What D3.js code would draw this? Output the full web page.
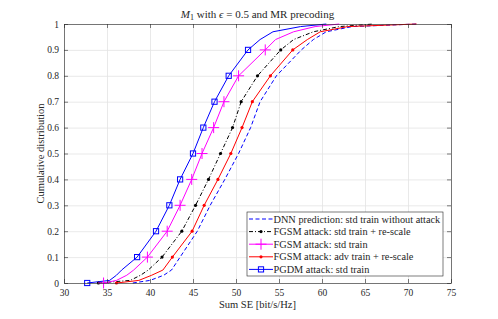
<!DOCTYPE html>
<html>
<head>
<meta charset="utf-8">
<script src="https://cdn.jsdelivr.net/npm/d3@7"></script>
<style>
  html, body { margin: 0; padding: 0; background: #fff; }
  svg { display: block; }
  text { font-family: "Liberation Serif", "Times New Roman", serif; fill: #262626; }
</style>
</head>
<body>
<svg id="chart" width="498" height="319"></svg>
<script>
// CDF levels shared by every curve
const levels = [0, 0.01, 0.03, 0.05, 0.1, 0.2, 0.3, 0.4, 0.5, 0.6, 0.7, 0.8, 0.9, 0.94, 0.97, 0.99, 1];
// marker is put on every tenth
const markerLevels = [0, 0.1, 0.2, 0.3, 0.4, 0.5, 0.6, 0.7, 0.8, 0.9];

// Sum SE [bit/s/Hz] at each level
const dnnNoAttack  = [38.0, 40.0, 41.6, 42.5, 43.5, 45.5, 47.0, 48.7, 50.3, 51.7, 52.8, 54.7, 57.6, 59.0, 60.5, 63.5, 71.0];
const fgsmRescale  = [34.0, 37.7, 38.9, 39.8, 41.4, 43.7, 45.3, 46.8, 48.2, 49.6, 50.6, 52.5, 55.2, 56.7, 59.0, 62.0, 66.0];
const fgsmStd      = [34.6, 36.1, 37.3, 38.1, 39.7, 42.0, 43.5, 44.85, 46.05, 47.4, 48.6, 50.3, 53.4, 54.6, 56.7, 59.2, 62.0];
const fgsmAdv      = [36.1, 38.7, 40.2, 41.5, 42.6, 44.9, 46.3, 47.9, 49.4, 50.7, 51.9, 54.0, 56.6, 58.3, 59.8, 63.0, 71.0];
const pgdmStd      = [32.7, 35.3, 36.1, 36.7, 38.5, 40.7, 42.25, 43.5, 45.0, 46.2, 47.5, 49.15, 51.4, 52.8, 54.3, 57.5, 60.5];

const xTicks = [30, 35, 40, 45, 50, 55, 60, 65, 70, 75];
const yTicks = [0, 0.1, 0.2, 0.3, 0.4, 0.5, 0.6, 0.7, 0.8, 0.9, 1];

const seriesNames = [
  "DNN prediction: std train without attack",
  "FGSM attack: std train + re-scale",
  "FGSM attack: std train",
  "FGSM attack: adv train + re-scale",
  "PGDM attack: std train"
];

const series = [
  { name: seriesNames[0], values: dnnNoAttack, color: "#0000ff", dash: "4,2.5", marker: "none" },
  { name: seriesNames[1], values: fgsmRescale, color: "#000000", dash: "4,2,1,2", marker: "dot" },
  { name: seriesNames[2], values: fgsmStd, color: "#ff00ff", dash: null, marker: "plus" },
  { name: seriesNames[3], values: fgsmAdv, color: "#ff0000", dash: null, marker: "dot" },
  { name: seriesNames[4], values: pgdmStd, color: "#0000ff", dash: null, marker: "square" }
];

const margin = { left: 64, right: 451, top: 24, bottom: 283 };
const svg = d3.select("#chart");

const x = d3.scaleLinear().domain([30, 75]).range([margin.left, margin.right]);
const y = d3.scaleLinear().domain([0, 1]).range([margin.bottom, margin.top]);
const plotW = margin.right - margin.left;
const plotH = margin.bottom - margin.top;

// Grid
svg.append("g")
  .attr("transform", `translate(0,${margin.bottom})`)
  .call(d3.axisBottom(x).tickValues(xTicks).tickSize(-plotH).tickFormat(""))
  .call(g => g.select(".domain").remove())
  .call(g => g.selectAll("line").attr("stroke", "#e3e3e3").attr("stroke-width", 0.8));
svg.append("g")
  .attr("transform", `translate(${margin.left},0)`)
  .call(d3.axisLeft(y).tickValues(yTicks).tickSize(-plotW).tickFormat(""))
  .call(g => g.select(".domain").remove())
  .call(g => g.selectAll("line").attr("stroke", "#e3e3e3").attr("stroke-width", 0.8));

// Curves
const line = d3.line()
  .x((d, i) => x(d))
  .y((d, i) => y(levels[i]));

const plot = svg.append("g");

series.forEach(s => {
  plot.append("path")
    .datum(s.values)
    .attr("fill", "none")
    .attr("stroke", s.color)
    .attr("stroke-width", 1)
    .attr("stroke-dasharray", s.dash)
    .attr("d", line);
});

function drawMarker(g, type, cx, cy, color) {
  if (type === "dot") {
    g.append("circle").attr("cx", cx).attr("cy", cy).attr("r", 1.6).attr("fill", color);
  } else if (type === "plus") {
    g.append("path")
      .attr("d", `M${cx - 5.5},${cy}H${cx + 5.5}M${cx},${cy - 5.5}V${cy + 5.5}`)
      .attr("stroke", color).attr("stroke-width", 1).attr("fill", "none");
  } else if (type === "square") {
    g.append("rect").attr("x", cx - 2.6).attr("y", cy - 2.6).attr("width", 5.2).attr("height", 5.2)
      .attr("fill", "none").attr("stroke", color).attr("stroke-width", 1);
  }
}

series.forEach(s => {
  if (s.marker === "none") return;
  levels.forEach((lv, i) => {
    if (markerLevels.indexOf(lv) >= 0) drawMarker(plot, s.marker, x(s.values[i]), y(lv), s.color);
  });
});

// Axes (box with inward ticks)
const axisColor = "#262626";
function styleAxis(g) {
  g.select(".domain").attr("stroke", axisColor).attr("stroke-width", 0.6);
  g.selectAll(".tick line").attr("stroke", axisColor).attr("stroke-width", 0.6);
  g.selectAll(".tick text").attr("font-family", "Liberation Serif, serif").attr("font-size", 9.5).attr("fill", axisColor);
}
const yFmt = d => (d === 0 || d === 1) ? String(d) : d.toFixed(1);

svg.append("g")
  .attr("transform", `translate(0,${margin.bottom})`)
  .call(d3.axisBottom(x).tickValues(xTicks).tickSizeInner(-4).tickSizeOuter(0).tickPadding(6))
  .call(styleAxis);
svg.append("g")
  .attr("transform", `translate(0,${margin.top})`)
  .call(d3.axisTop(x).tickValues(xTicks).tickSizeInner(-4).tickSizeOuter(0).tickFormat(""))
  .call(styleAxis);
svg.append("g")
  .attr("transform", `translate(${margin.left},0)`)
  .call(d3.axisLeft(y).tickValues(yTicks).tickSizeInner(-4).tickSizeOuter(0).tickPadding(5).tickFormat(yFmt))
  .call(styleAxis);
svg.append("g")
  .attr("transform", `translate(${margin.right},0)`)
  .call(d3.axisRight(y).tickValues(yTicks).tickSizeInner(-4).tickSizeOuter(0).tickFormat(""))
  .call(styleAxis);

// Labels
svg.append("text")
  .attr("x", (margin.left + margin.right) / 2)
  .attr("y", 308)
  .attr("text-anchor", "middle")
  .attr("font-size", 10.5)
  .text("Sum SE [bit/s/Hz]");

svg.append("text")
  .attr("transform", `translate(44,${(margin.top + margin.bottom) / 2}) rotate(-90)`)
  .attr("text-anchor", "middle")
  .attr("font-size", 10.5)
  .text("Cumulative distribution");

const title = svg.append("text")
  .attr("x", (margin.left + margin.right) / 2)
  .attr("y", 18)
  .attr("text-anchor", "middle")
  .attr("font-size", 11);
title.append("tspan").attr("font-style", "italic").text("M");
title.append("tspan").attr("font-size", 8).attr("dy", 2).text("1");
title.append("tspan").attr("dy", -2).text(" with ");
title.append("tspan").attr("font-style", "italic").text("\u03f5");
title.append("tspan").text(" = 0.5 and MR precoding");

// Legend
const legend = svg.append("g").attr("transform", "translate(247,212)");
legend.append("rect")
  .attr("width", 196).attr("height", 64)
  .attr("fill", "#fff").attr("stroke", axisColor).attr("stroke-width", 0.6);

series.forEach((s, i) => {
  const cy = 7 + i * 12.6;
  legend.append("line")
    .attr("x1", 2).attr("x2", 26).attr("y1", cy).attr("y2", cy)
    .attr("stroke", s.color).attr("stroke-width", 1)
    .attr("stroke-dasharray", s.dash);
  drawMarker(legend, s.marker, 14, cy, s.color);
  legend.append("text")
    .attr("x", 26.5).attr("y", cy + 3.5)
    .attr("font-size", 10.3)
    .text(s.name);
});
</script>
</body>
</html>
